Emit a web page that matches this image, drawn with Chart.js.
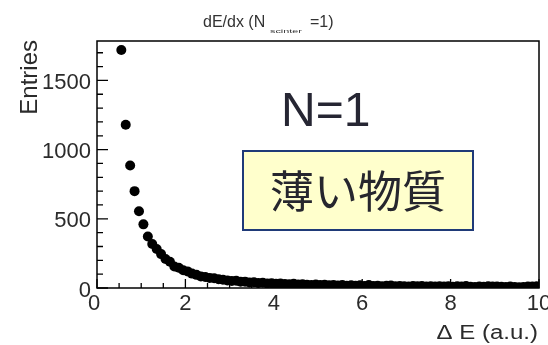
<!DOCTYPE html>
<html>
<head>
<meta charset="utf-8">
<script src="https://cdn.jsdelivr.net/npm/chart.js@4"></script>
<style>
  html, body { margin: 0; padding: 0; background: #fff; overflow: hidden; }
  canvas { display: block; }
</style>
</head>
<body>
<canvas id="dedx" width="548" height="345"></canvas>
<script>
// dE/dx spectrum, thin material (N=1)
const binCenters = [
  0.55, 0.65, 0.75, 0.85, 0.95, 1.05, 1.15, 1.25, 1.35, 1.45,
  1.55, 1.65, 1.75, 1.85, 1.95, 2.05, 2.15, 2.25, 2.35, 2.45,
  2.55, 2.65, 2.75, 2.85, 2.95, 3.05, 3.15, 3.25, 3.35, 3.45,
  3.55, 3.65, 3.75, 3.85, 3.95, 4.05, 4.15, 4.25, 4.35, 4.45,
  4.55, 4.65, 4.75, 4.85, 4.95, 5.05, 5.15, 5.25, 5.35, 5.45,
  5.55, 5.65, 5.75, 5.85, 5.95, 6.05, 6.15, 6.25, 6.35, 6.45,
  6.55, 6.65, 6.75, 6.85, 6.95, 7.05, 7.15, 7.25, 7.35, 7.45,
  7.55, 7.65, 7.75, 7.85, 7.95, 8.05, 8.15, 8.25, 8.35, 8.45,
  8.55, 8.65, 8.75, 8.85, 8.95, 9.05, 9.15, 9.25, 9.35, 9.45,
  9.55, 9.65, 9.75, 9.85, 9.95
];
const entries = [
  1720, 1180, 885, 700, 555, 460, 372, 318, 282, 245,
  210, 190, 155, 146, 128, 120, 104, 95, 84, 80,
  72, 70, 64, 60, 55, 50, 52, 45, 46, 40,
  41, 36, 38, 33, 35, 30, 32, 29, 27, 30,
  25, 27, 24, 22, 25, 21, 23, 20, 22, 18,
  21, 17, 20, 16, 19, 15, 22, 14, 17, 13,
  16, 18, 12, 15, 13, 11, 15, 12, 14, 11,
  13, 10, 13, 11, 12, 9, 12, 10, 14, 9,
  8, 11, 9, 12, 10, 11, 9, 8, 10, 7,
  6, 8, 10, 11, 12
];

const xTickValues = [0, 2, 4, 6, 8, 10];
const yTickValues = [0, 500, 1000, 1500];
const xMinorStep = 0.5;
const yMinorStep = 100;

const FONT = "'Liberation Sans', Arial, sans-serif";

// ROOT-style frame, inward ticks and texts
const rootFrame = {
  id: "rootFrame",
  afterDraw(chart) {
    const { ctx, chartArea: a, scales } = chart;
    const xs = scales.x, ys = scales.y;
    ctx.save();

    // frame
    ctx.strokeStyle = "#000";
    ctx.lineWidth = 1.5;
    ctx.strokeRect(a.left, a.top, a.right - a.left, a.bottom - a.top);

    // x ticks
    ctx.lineWidth = 1.3;
    ctx.beginPath();
    for (let v = xs.min; v <= xs.max + 1e-9; v += xMinorStep) {
      const px = xs.getPixelForValue(v);
      const major = xTickValues.some(t => Math.abs(t - v) < 1e-6);
      ctx.moveTo(px, a.bottom);
      ctx.lineTo(px, a.bottom - (major ? 9 : 5));
    }
    // y ticks
    for (let v = ys.min; v <= ys.max; v += yMinorStep) {
      const py = ys.getPixelForValue(v);
      const major = yTickValues.includes(v);
      ctx.moveTo(a.left, py);
      ctx.lineTo(a.left + (major ? 11 : 6), py);
    }
    ctx.stroke();

    // tick labels
    ctx.fillStyle = "#2b2b2b";
    ctx.font = "22px " + FONT;
    ctx.textAlign = "right";
    ctx.textBaseline = "alphabetic";
    yTickValues.forEach(v => {
      ctx.fillText(String(v), a.left - 6, ys.getPixelForValue(v) + 8.5);
    });
    ctx.textAlign = "center";
    xTickValues.forEach(v => {
      ctx.fillText(String(v), xs.getPixelForValue(v) - (v === 0 ? 3 : 0), a.bottom + 22);
    });

    // axis titles
    ctx.font = "24px " + FONT;
    ctx.save();
    ctx.translate(37, 40);
    ctx.rotate(-Math.PI / 2);
    ctx.textAlign = "right";
    ctx.fillText("Entries", 0, 0);
    ctx.restore();

    ctx.save();
    ctx.translate(538, 339);
    ctx.scale(1.2, 1);
    ctx.font = "20px " + FONT;
    ctx.textAlign = "right";
    ctx.fillText("\u0394 E (a.u.)", 0, 0);
    ctx.restore();

    // histogram title with subscript
    ctx.fillStyle = "#333";
    ctx.textAlign = "left";
    ctx.font = "16px " + FONT;
    ctx.fillText("dE/dx (N", 203, 27);
    ctx.fillText("=1)", 310, 27);
    ctx.save();
    ctx.translate(270, 33);
    ctx.scale(1.8, 1);
    ctx.font = "6px " + FONT;
    ctx.fillText("scinter", 0, 0);
    ctx.restore();

    // N=1 label
    ctx.fillStyle = "#262633";
    ctx.font = "48px " + FONT;
    ctx.fillText("N=1", 281, 126);

    // yellow box
    ctx.fillStyle = "#ffffcc";
    ctx.fillRect(243, 151, 230, 79);
    ctx.strokeStyle = "#1f3a78";
    ctx.lineWidth = 2;
    ctx.strokeRect(243, 151, 230, 79);
    ctx.fillStyle = "#26262e";
    ctx.font = "44px 'Noto Sans CJK JP', sans-serif";
    ctx.textAlign = "center";
    ctx.textBaseline = "middle";
    ctx.fillText("薄い物質", 358, 191);

    ctx.restore();
  }
};

new Chart(document.getElementById("dedx").getContext("2d"), {
  type: "scatter",
  data: {
    datasets: [{
      label: "dE/dx",
      data: binCenters.map((x, i) => ({ x: x, y: entries[i] })),
      backgroundColor: "#000",
      borderColor: "#000",
      pointRadius: 5,
      pointHoverRadius: 5,
      borderWidth: 0
    }]
  },
  options: {
    responsive: false,
    animation: false,
    devicePixelRatio: 1,
    layout: { padding: { left: 97, right: 9, top: 41, bottom: 57 } },
    plugins: { legend: { display: false }, tooltip: { enabled: false }, title: { display: false } },
    scales: {
      x: { type: "linear", min: 0, max: 10, display: false },
      y: { type: "linear", min: 0, max: 1785, display: false }
    }
  },
  plugins: [rootFrame]
});
</script>
</body>
</html>
